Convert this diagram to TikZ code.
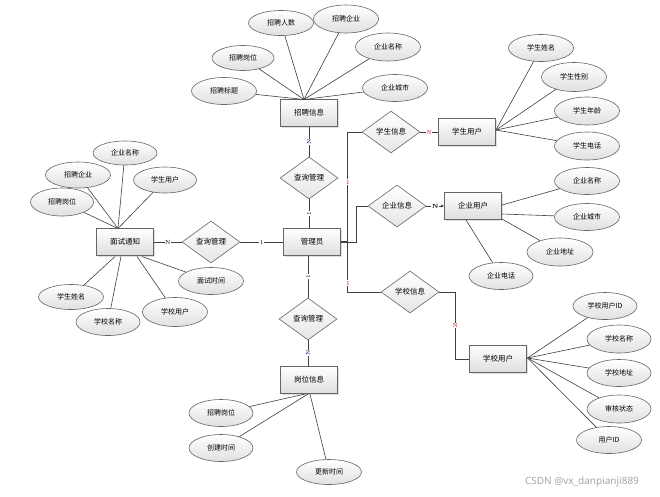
\documentclass[tikz,border=0pt]{standalone}
\usepackage{fontspec}
\newfontfamily\cjk{Noto Sans CJK SC}
\newfontfamily\wmfont{Noto Sans}
\usetikzlibrary{shapes.geometric,shadows,arrows.meta}
\tikzset{
  ent/.style={rectangle, draw=black!60, line width=0.8pt, top color=white, bottom color=black!13,
    minimum width=57pt, minimum height=27pt, inner sep=0pt, font=\cjk\fontsize{7.5}{8}\selectfont,
    drop shadow={shadow xshift=1.2pt, shadow yshift=-1.2pt, opacity=0.25}},
  attr/.style={ellipse, draw=black!60, line width=0.6pt, top color=white, bottom color=black!12,
    minimum width=65pt, minimum height=27pt, inner sep=0pt, font=\cjk\fontsize{7}{8}\selectfont},
  rel/.style={diamond, draw=black!60, line width=0.6pt, top color=white, bottom color=black!10,
    minimum width=58pt, minimum height=42pt, inner sep=0pt, font=\cjk\fontsize{7.5}{8}\selectfont},
  conn/.style={draw=black!75, line width=0.6pt},
  lbl/.style={font=\fontsize{6}{6}\selectfont, inner sep=0.6pt, fill=white},
  lblv/.style={lbl, rotate=90, text=blue!40!black},
  lblr/.style={lbl, text=red!80!black},
}
\begin{document}
\begin{tikzpicture}[x=1pt,y=-1pt]
\useasboundingbox (0,0) rectangle (660,496);
\fill[white] (0,0) rectangle (660,496);

% entities
\node[ent] (zp)   at (309,113) {招聘信息};
\node[ent] (gly)  at (312,242) {管理员};
\node[ent] (xsyh) at (467,132) {学生用户};
\node[ent] (qyyh) at (473,206) {企业用户};
\node[ent] (xxyh) at (498,359) {学校用户};
\node[ent] (gwxx) at (309,380) {岗位信息};
\node[ent] (mstz) at (125,242) {面试通知};

% relations
\node[rel] (r1) at (309,178) {查询管理};
\node[rel] (r2) at (391,132) {学生信息};
\node[rel] (r3) at (397,206) {企业信息};
\node[rel] (r4) at (410,292) {学校信息};
\node[rel] (r5) at (308,319) {查询管理};
\node[rel] (r6) at (211,242) {查询管理};

% relation connectors
\draw[conn] (zp.south) -- node[lblv]{N} (r1.north);
\draw[conn] (r1.south) -- node[lblv]{1} (r1.south |- gly.north);
\draw[conn] (gly.east) -- ++(15,0) |- (r3.west);
\draw[conn] (r2.west) -- ++(-14,0) coordinate (tt) |- (r4.west);
\coordinate (tj) at (348,242);
\draw[conn, line width=1.2pt] (gly.east) -- (tj);
\node[lblr] at (348,182) {1};
\node[lblr] at (348,283) {1};
\draw[conn] (r2.east) -- node[lbl, text=purple]{N} (xsyh.west);
\draw[conn, -{Latex[length=3pt,width=3pt]}] (r3.east) -- node[lbl, font=\bfseries\fontsize{6}{6}\selectfont]{N} (qyyh.west);
\draw[conn] (r4.east) -- ++(16,0) |- node[lblr, pos=0.25]{N} (xxyh.west);
\draw[conn] (r5.north |- gly.south) -- node[lblv]{1} (r5.north);
\draw[conn] (r5.south) -- node[lblv]{N} (r5.south |- gwxx.north);
\draw[conn] (mstz.east) -- node[lbl]{N} (r6.west);
\draw[conn] (r6.east) -- node[lbl]{1} (gly.west);

% attributes of 招聘信息
\coordinate (pT) at (304,99.5);
\node[attr, minimum height=25pt] (a1) at (281,23) {招聘人数};
\node[attr, minimum height=28pt] (a2) at (346,19) {招聘企业};
\node[attr, minimum width=62pt, minimum height=25pt] (a3) at (243,58) {招聘岗位};
\node[attr, minimum height=28pt] (a4) at (388,47) {企业名称};
\node[attr] (a5) at (224,91) {招聘标题};
\node[attr] (a6) at (395,88) {企业城市};
\foreach \n in {a1,a2,a3,a4,a5,a6} \draw[conn] (\n) -- (pT);

% attributes of 面试通知
\coordinate (pL) at (118,228.5);
\node[attr, minimum width=64pt, minimum height=24pt] (b1) at (125,153) {企业名称};
\node[attr, minimum height=26pt] (b2) at (78,175) {招聘企业};
\node[attr, minimum width=63pt, minimum height=26pt] (b3) at (165,180) {学生用户};
\node[attr, minimum width=63pt, minimum height=28pt] (b4) at (62,202) {招聘岗位};
\foreach \n in {b1,b2,b3,b4} \draw[conn] (\n) -- (pL);
\node[attr] (b5) at (211,281) {面试时间};
\node[attr, minimum height=25pt] (b6) at (71,297) {学生姓名};
\node[attr, minimum width=64pt] (b7) at (108,322) {学校名称};
\node[attr, minimum height=29pt] (b8) at (175,312) {学校用户};
\coordinate (q5) at (142,256.5);
\coordinate (q6) at (115,256.5);
\coordinate (q7) at (121,256.5);
\coordinate (q8) at (137,256.5);
\draw[conn] (q5) -- (b5);
\draw[conn] (q6) -- (b6);
\draw[conn] (q7) -- (b7);
\draw[conn] (q8) -- (b8);

% attributes of 学生用户
\coordinate (pS) at (496,130);
\node[attr] (c1) at (541,48) {学生姓名};
\node[attr, minimum height=29pt] (c2) at (574,77) {学生性别};
\node[attr, minimum height=28pt] (c3) at (587,111) {学生年龄};
\node[attr, minimum height=28pt] (c4) at (587,146) {学生电话};
\foreach \n in {c1,c2,c3,c4} \draw[conn] (\n) -- (pS);

% attributes of 企业用户
\node[attr] (d1) at (587,181) {企业名称};
\node[attr] (d2) at (587,217) {企业城市};
\node[attr, minimum width=66pt, minimum height=28pt] (d3) at (560,252) {企业地址};
\node[attr, minimum width=64pt] (d4) at (501,276) {企业电话};
\coordinate (s1) at (502,205);
\coordinate (s2) at (502,214);
\coordinate (s3) at (502,219);
\coordinate (s4) at (466,220);
\draw[conn] (s1) -- (d1);
\draw[conn] (s2) -- (d2);
\draw[conn] (s3) -- (d3);
\draw[conn] (s4) -- (d4);

% attributes of 学校用户
\coordinate (pX) at (527.5,358);
\node[attr, minimum width=64pt] (e1) at (605,306) {学校用户ID};
\node[attr, minimum width=64pt, minimum height=28pt] (e2) at (619,339) {学校名称};
\node[attr, minimum width=64pt] (e3) at (619,373) {学校地址};
\node[attr, minimum width=64pt, minimum height=28pt] (e4) at (619,409) {审核状态};
\node[attr] (e5) at (609,440) {用户ID};
\foreach \n in {e1,e2,e3,e4,e5} \draw[conn] (\n) -- (pX);

% attributes of 岗位信息
\coordinate (g1) at (305,394);
\coordinate (g2) at (308,394);
\coordinate (g3) at (310,394);
\node[attr, minimum width=64pt] (f1) at (221,413) {招聘岗位};
\node[attr, minimum width=64pt] (f2) at (221,448) {创建时间};
\node[attr, minimum height=25pt] (f3) at (329,472) {更新时间};
\draw[conn] (g1) -- (f1);
\draw[conn] (g2) -- (f2);
\draw[conn] (g3) -- (f3);

% watermark
\node[font=\wmfont\fontsize{10}{12}\selectfont, text=black!35] (wm) at (582,482) {CSDN @vx\_danpianji889};
\end{tikzpicture}
\end{document}
